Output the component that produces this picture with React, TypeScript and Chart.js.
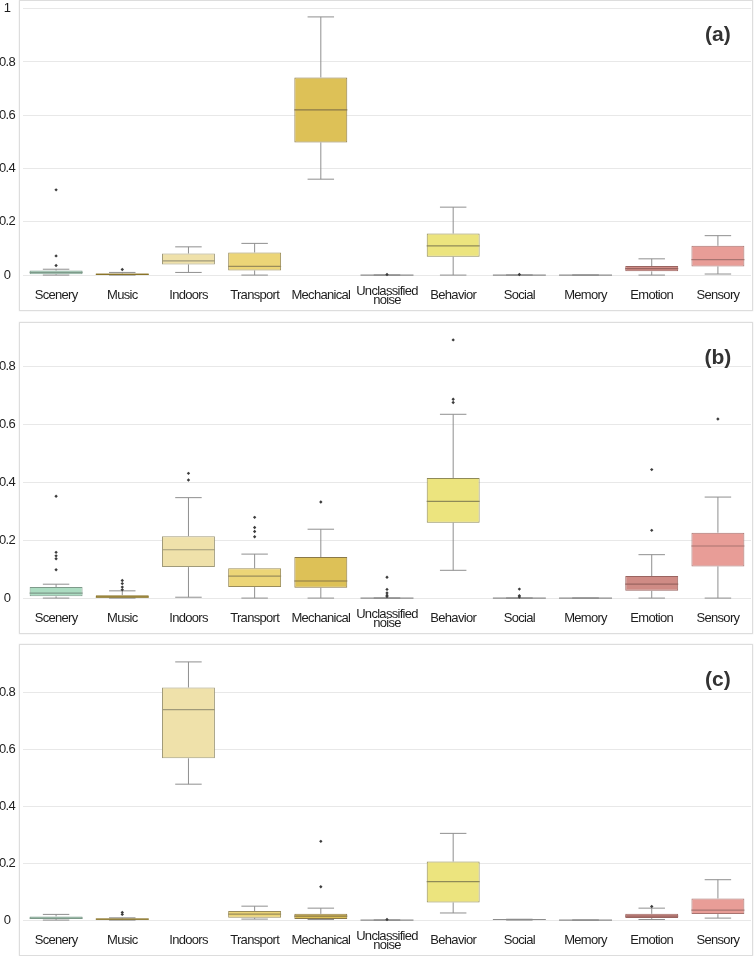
import React, { useEffect, useRef } from "react";
import { Chart, registerables } from "chart.js";

Chart.register(...registerables);

const FONT = "'Liberation Sans', Arial, Helvetica, sans-serif";

const CATEGORIES = [
  "Scenery", "Music", "Indoors", "Transport", "Mechanical", "Unclassified noise",
  "Behavior", "Social", "Memory", "Emotion", "Sensory",
];
const WRAPPED: Record<string, string[]> = { "Unclassified noise": ["Unclassified", "noise"] };

const FILLS = ["#abdcc1", "#c9a637", "#efe1aa", "#ecd577", "#ddc157", "#d8d0a8", "#ece47e", "#e6dc9a", "#dcc0a0", "#cf8b85", "#e89d97"];
const EDGES = ["#7e9a8a", "#8a7428", "#a09a7a", "#9a8c5a", "#8a7848", "#8c8c8c", "#8f8a58", "#8c8c8c", "#8c8c8c", "#9a6460", "#a87470"];
const WHISKER = "#8f8f8f";

// Panel (a)
const A_LOW = [0, 0, 0.010, 0, 0.360, 0, 0, 0, 0, 0, 0.004];
const A_Q1 = [0.003, 0.001, 0.040, 0.0175, 0.498, 0, 0.069, 0, 0, 0.014, 0.0325];
const A_MED = [0.010, 0.003, 0.053, 0.0325, 0.620, 0, 0.110, 0, 0, 0.024, 0.058];
const A_Q3 = [0.017, 0.006, 0.081, 0.085, 0.742, 0, 0.156, 0, 0, 0.034, 0.110];
const A_HIGH = [0.022, 0.010, 0.106, 0.119, 0.969, 0, 0.255, 0, 0, 0.061, 0.148];
const A_OUT = [[0.32, 0.072, 0.036], [0.021], [], [], [], [0.002], [], [0.002], [], [], []];
const A_TICKS = [0, 0.2, 0.4, 0.6, 0.8, 1];

// Panel (b)
const B_LOW = [0, 0, 0.003, 0, 0, 0, 0.096, 0, 0, 0, 0];
const B_Q1 = [0.006, 0, 0.107, 0.038, 0.036, 0, 0.2605, 0, 0, 0.025, 0.1095];
const B_MED = [0.017, 0.003, 0.167, 0.076, 0.059, 0, 0.334, 0, 0, 0.048, 0.180];
const B_Q3 = [0.038, 0.010, 0.214, 0.103, 0.142, 0, 0.415, 0, 0, 0.076, 0.226];
const B_HIGH = [0.048, 0.025, 0.347, 0.152, 0.238, 0, 0.635, 0, 0, 0.150, 0.349];
const B_OUT = [
  [0.352, 0.158, 0.146, 0.136, 0.098],
  [0.061, 0.050, 0.038, 0.029],
  [0.431, 0.408],
  [0.279, 0.244, 0.230, 0.212],
  [0.332],
  [0.072, 0.030, 0.018, 0.010, 0.005],
  [0.892, 0.687, 0.676],
  [0.031, 0.008, 0.004],
  [],
  [0.444, 0.234],
  [0.619],
];
const B_TICKS = [0, 0.2, 0.4, 0.6, 0.8];

// Panel (c)
const C_LOW = [0, 0, 0.478, 0.0035, 0.002, 0, 0.025, 0, 0, 0.002, 0.007];
const C_Q1 = [0.0035, 0.001, 0.569, 0.008, 0.0035, 0, 0.062, 0, 0, 0.007, 0.021];
const C_MED = [0.007, 0.0035, 0.740, 0.021, 0.014, 0, 0.135, 0.002, 0, 0.014, 0.035];
const C_Q3 = [0.013, 0.006, 0.818, 0.032, 0.022, 0, 0.206, 0.003, 0, 0.022, 0.076];
const C_HIGH = [0.020, 0.008, 0.908, 0.049, 0.042, 0, 0.305, 0.003, 0, 0.042, 0.142];
const C_OUT = [[], [0.027, 0.020], [], [], [0.277, 0.1175], [0.002], [], [], [], [0.048], []];
const C_TICKS = [0, 0.2, 0.4, 0.6, 0.8];

const boxPlugin = {
  id: "boxParts",
  afterDatasetDraw(chart: any, args: any, opts: any) {
    if (args.index !== 0) return;
    const { low, med, high, q1, q3 } = opts;
    const ys = chart.scales.y;
    const meta = chart.getDatasetMeta(0);
    const ctx = chart.ctx;
    ctx.save();
    meta.data.forEach((bar: any, i: number) => {
      const x = bar.x;
      const w = bar.width;
      const yQ1 = ys.getPixelForValue(q1[i]);
      const yQ3 = ys.getPixelForValue(q3[i]);
      const yLo = ys.getPixelForValue(low[i]);
      const yHi = ys.getPixelForValue(high[i]);
      const yMed = ys.getPixelForValue(med[i]);
      ctx.strokeStyle = WHISKER;
      ctx.lineWidth = 1;
      ctx.beginPath();
      ctx.moveTo(x, yQ3);
      ctx.lineTo(x, yHi);
      ctx.moveTo(x - w / 4, yHi);
      ctx.lineTo(x + w / 4, yHi);
      ctx.moveTo(x, yQ1);
      ctx.lineTo(x, yLo);
      ctx.moveTo(x - w / 4, yLo);
      ctx.lineTo(x + w / 4, yLo);
      ctx.stroke();
      ctx.strokeStyle = EDGES[i];
      ctx.lineWidth = 1.2;
      ctx.beginPath();
      ctx.moveTo(x - w / 2, yMed);
      ctx.lineTo(x + w / 2, yMed);
      ctx.stroke();
    });
    ctx.restore();
  },
};

const textPlugin = {
  id: "panelText",
  beforeDraw(chart: any) {
    (chart.ctx as any).letterSpacing = "-0.7px";
  },
  afterDraw(chart: any, _args: any, opts: any) {
    const ctx = chart.ctx as any;
    const xs = chart.scales.x;
    const bottom = chart.chartArea.bottom;
    ctx.save();
    // category labels
    ctx.letterSpacing = "-0.7px";
    ctx.font = `13px ${FONT}`;
    ctx.fillStyle = "#1e1e1e";
    ctx.textAlign = "center";
    ctx.textBaseline = "alphabetic";
    CATEGORIES.forEach((c, i) => {
      const x = xs.getPixelForValue(i);
      const lines = WRAPPED[c];
      if (lines) {
        ctx.fillText(lines[0], x, bottom + 7);
        ctx.fillText(lines[1], x, bottom + 16);
      } else {
        ctx.fillText(c, x, bottom + 11);
      }
    });
    // panel tag
    ctx.letterSpacing = "0px";
    ctx.font = `bold 21px ${FONT}`;
    ctx.fillStyle = "#333333";
    ctx.textBaseline = "middle";
    ctx.fillText(opts.text, xs.getPixelForValue(CATEGORIES.length - 1), chart.chartArea.top + 31);
    ctx.restore();
    ctx.letterSpacing = "0px";
  },
};

type PanelProps = {
  canvasTop: number;
  borderTop: number;
  borderHeight: number;
  low: number[];
  q1: number[];
  med: number[];
  q3: number[];
  high: number[];
  outliers: number[][];
  ticks: number[];
  label: string;
};

function BoxPanel(p: PanelProps) {
  const ref = useRef<HTMLCanvasElement>(null);
  useEffect(() => {
    if (!ref.current) return;
    const maxV = Math.max(...p.high, ...p.outliers.flat());
    const yMin = -0.05 * maxV;
    const yMax = 1.05 * maxV;
    const pts: { x: string; y: number }[] = [];
    p.outliers.forEach((arr, i) => arr.forEach((v) => pts.push({ x: CATEGORIES[i], y: v })));
    const chart = new Chart(ref.current, {
      type: "bar",
      data: {
        labels: CATEGORIES,
        datasets: [
          {
            type: "bar",
            data: p.q1.map((v, i) => [v, p.q3[i]]),
            backgroundColor: FILLS,
            borderColor: EDGES,
            borderWidth: 1,
            borderSkipped: false,
            barPercentage: 0.8,
            categoryPercentage: 1,
            order: 2,
          } as any,
          {
            type: "scatter",
            data: pts,
            pointStyle: "rectRot",
            radius: 1.7,
            backgroundColor: "#3c3c3c",
            borderWidth: 0,
            order: 1,
          } as any,
        ],
      },
      options: {
        animation: false,
        responsive: false,
        maintainAspectRatio: false,
        devicePixelRatio: 1,
        layout: { padding: { top: 4, right: 3.5, left: 0, bottom: 0 } },
        plugins: {
          legend: { display: false },
          tooltip: { enabled: false },
          boxParts: { low: p.low, med: p.med, high: p.high, q1: p.q1, q3: p.q3 },
          panelText: { text: p.label },
        } as any,
        scales: {
          x: {
            type: "category",
            offset: true,
            grid: { display: false, drawTicks: false },
            border: { display: false },
            ticks: { display: false, autoSkip: false },
            afterFit: (s: any) => {
              s.height = 22;
              s.paddingLeft = 0;
              s.paddingRight = 0;
            },
          },
          y: {
            type: "linear",
            min: yMin,
            max: yMax,
            grid: { color: "#e8e8e8", lineWidth: 1, drawTicks: false },
            border: { display: false },
            afterBuildTicks: (s: any) => {
              s.ticks = p.ticks.map((v) => ({ value: v }));
            },
            ticks: {
              padding: 7,
              crossAlign: "center",
              color: "#1e1e1e",
              font: { family: FONT, size: 13 },
              callback: (v: any) => String(Number(Number(v).toFixed(2))),
            },
            afterFit: (s: any) => {
              s.width = 25;
              s.paddingTop = 0;
              s.paddingBottom = 0;
            },
          },
        } as any,
      },
      plugins: [boxPlugin, textPlugin],
    } as any);
    return () => chart.destroy();
  }, []);

  return (
    <>
      <div
        style={{
          position: "absolute",
          left: 19,
          top: p.borderTop,
          width: 734,
          height: p.borderHeight,
          border: "1px solid #dddddd",
          boxShadow: "0 0 1.5px #e4e4e4",
          boxSizing: "border-box",
        }}
      />
      <canvas
        ref={ref}
        width={757}
        height={310}
        style={{ position: "absolute", left: -2, top: p.canvasTop, width: 757, height: 310 }}
      />
    </>
  );
}

export default function App() {
  return (
    <div
      style={{
        position: "fixed",
        left: 0,
        top: 0,
        width: 755,
        height: 956,
        overflow: "hidden",
        background: "#ffffff",
      }}
    >
      <BoxPanel canvasTop={0} borderTop={0} borderHeight={311} low={A_LOW} q1={A_Q1} med={A_MED} q3={A_Q3} high={A_HIGH} outliers={A_OUT} ticks={A_TICKS} label="(a)" />
      <BoxPanel canvasTop={323} borderTop={322} borderHeight={312} low={B_LOW} q1={B_Q1} med={B_MED} q3={B_Q3} high={B_HIGH} outliers={B_OUT} ticks={B_TICKS} label="(b)" />
      <BoxPanel canvasTop={645} borderTop={644} borderHeight={312} low={C_LOW} q1={C_Q1} med={C_MED} q3={C_Q3} high={C_HIGH} outliers={C_OUT} ticks={C_TICKS} label="(c)" />
    </div>
  );
}
